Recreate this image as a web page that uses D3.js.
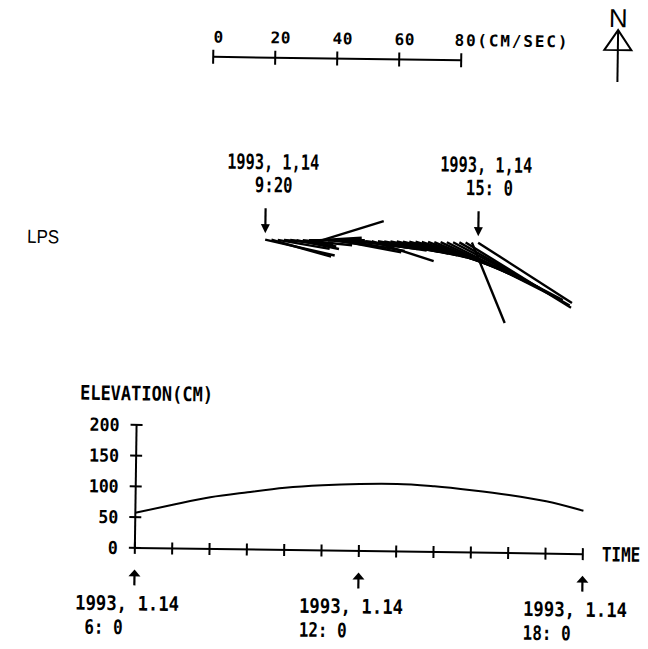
<!DOCTYPE html>
<html>
<head>
<meta charset="utf-8">
<script src="https://cdn.jsdelivr.net/npm/d3@7"></script>
<style>
  html, body { margin: 0; padding: 0; background: #fff; }
  svg { display: block; }
  text { font-family: "DejaVu Sans Mono", "Liberation Mono", monospace; font-weight: bold; fill: #000; white-space: pre; }
  .plain { font-family: "Liberation Sans", Arial, sans-serif; font-weight: normal; }
</style>
</head>
<body>
<script>
// ---- current sticks, station LPS, 10-minute samples ----
const stickTimes = ["9:20","9:30","9:40","9:50","10:00","10:10","10:20","10:30","10:40","10:50",
                    "11:00","11:10","11:20","11:30","11:40","11:50","12:00","12:10","12:20","12:30",
                    "12:40","12:50","13:00","13:10","13:20","13:30","13:40","13:50","14:00","14:10",
                    "14:20","14:30","14:40","14:50","15:00"];
// speed in cm/s
const stickSpeed = [23, 20, 17, 16, 15, 14, 16, 18, 15, 21,
                    14, 17, 20, 19, 18, 19, 20, 21, 20, 21,
                    22, 23, 23, 24, 25, 26, 27, 30, 35, 38,
                    40, 41, 40, 28, 36];
// direction toward which the current flows, degrees clockwise from north
const stickDir = [102, 105, 99, 94, 97, 101, 95, 89, 86, 72,
                  91, 97, 100, 99, 96, 97, 98, 107, 99, 100,
                  101, 102, 103, 104, 106, 108, 110, 112, 114, 116,
                  117, 119, 121, 157, 122];
const stickMarks = ["9:20", "15:00"];
const stickMarkDate = "1993, 1,14";
const stickMarkTime = ["9:20", "15: 0"];

// ---- velocity scale bar ----
const speedTicks = [0, 20, 40, 60, 80];
const speedUnit = "(CM/SEC)";

// ---- tide elevation, hourly ----
const elevHours = [6, 7, 8, 9, 10, 11, 12, 13, 14, 15, 16, 17, 18];
const elevCm = [57, 71, 84, 93, 101, 106, 109, 110, 107, 101.5, 94.5, 85, 70.5];
const elevTicks = [0, 50, 100, 150, 200];
const markHours = [6, 12, 18];
const markDate = "1993, 1.14";
const markTime = [" 6: 0", "12: 0", "18: 0"];

const W = 648, H = 649;
const svg = d3.select("body").append("svg").attr("width", W).attr("height", H);
svg.append("rect").attr("width", W).attr("height", H).attr("fill", "#fff");
// the plotter sheet sits slightly askew
const g = svg.append("g").attr("transform", "rotate(0.8,324,324)");

function txt(parent, s, x, y, size, len, anchor, adjust) {
  const t = parent.append("text").attr("x", x).attr("y", y)
    .attr("font-size", size).attr("text-anchor", anchor || "start").text(s);
  if (len) t.attr("textLength", len).attr("lengthAdjust", adjust || "spacingAndGlyphs");
  return t;
}

// ---------- scale bar ----------
const speedScale = d3.scaleLinear().domain([0, 80]).range([209.5, 457.5]);
const barY = 58.4;
g.append("line").attr("x1", speedScale(0)).attr("x2", speedScale(80))
  .attr("y1", barY).attr("y2", barY).attr("stroke", "#000").attr("stroke-width", 2);
g.selectAll(".stick-tick").data(speedTicks).join("line")
  .attr("x1", d => speedScale(d)).attr("x2", d => speedScale(d))
  .attr("y1", barY - 7).attr("y2", barY + 7)
  .attr("stroke", "#000").attr("stroke-width", 2);
speedTicks.forEach((d, i) => {
  if (i < speedTicks.length - 1) {
    txt(g, String(d), speedScale(d) + 5, 44, 16, String(d).length * 10, "middle", "spacing");
  } else {
    txt(g, String(d) + speedUnit, speedScale(d) - 7, 44, 16, 113, "start", "spacing");
  }
});

// north arrow
const nx = 614;
txt(g, "N", nx, 23, 26, null, "middle").attr("class", "plain");
g.append("path")
  .attr("d", `M${nx},26 L${nx - 13.5},46 L${nx + 13.5},46 Z`)
  .attr("fill", "none").attr("stroke", "#000").attr("stroke-width", 2);
g.append("line").attr("x1", nx).attr("x2", nx).attr("y1", 26).attr("y2", 78)
  .attr("stroke", "#000").attr("stroke-width", 2);

// ---------- stick plot ----------
const toMin = s => { const [h, m] = s.split(":").map(Number); return h * 60 + m; };
const stickX = d3.scaleLinear()
  .domain([toMin(stickTimes[0]), toMin(stickTimes[stickTimes.length - 1])])
  .range([264, 477]);
const baseY = 240.5;
const unitPx = speedScale(1) - speedScale(0);

txt(g, "LPS", 26, 247, 19, 32).attr("class", "plain");

const sticks = stickTimes.map((t, i) => {
  const x0 = stickX(toMin(t));
  const len = stickSpeed[i] * unitPx;
  const a = stickDir[i] * Math.PI / 180;
  return { x0, y0: baseY, x1: x0 + len * Math.sin(a), y1: baseY - len * Math.cos(a) };
});
g.selectAll(".stick").data(sticks).join("line")
  .attr("x1", d => d.x0).attr("y1", d => d.y0)
  .attr("x2", d => d.x1).attr("y2", d => d.y1)
  .attr("stroke", "#000").attr("stroke-width", 2.4);

// start / end markers
stickMarks.forEach((t, i) => {
  const x = stickX(toMin(t));
  g.append("line").attr("x1", x).attr("x2", x).attr("y1", 209).attr("y2", 227)
    .attr("stroke", "#000").attr("stroke-width", 2.2);
  g.append("path").attr("d", `M${x - 4.5},225 L${x + 4.5},225 L${x},234 Z`).attr("fill", "#000");
  txt(g, stickMarkDate, x - 39, 170, 21, 92);
  const lbl = stickMarkTime[i];
  txt(g, lbl, x - 11 - (lbl.length - 4) * 2, 193, 21, lbl.length * 9.4);
});

// ---------- elevation panel ----------
const tScale = d3.scaleLinear().domain([6, 18]).range([138, 586]);
const eScale = d3.scaleLinear().domain([0, 200]).range([550.5, 427.5]);
const axY = eScale(0), axX = tScale(6);

txt(g, "ELEVATION(CM)", 81, 403, 20, 133);

g.append("line").attr("x1", axX).attr("x2", axX).attr("y1", axY).attr("y2", eScale(200))
  .attr("stroke", "#000").attr("stroke-width", 2);
g.selectAll(".ytick").data(elevTicks).join("line")
  .attr("x1", axX - 6).attr("x2", axX + 6)
  .attr("y1", d => eScale(d)).attr("y2", d => eScale(d))
  .attr("stroke", "#000").attr("stroke-width", 2);
elevTicks.forEach(d => {
  const s = String(d);
  txt(g, s, 121, eScale(d) + 6.5, 18, s.length * 10, "end");
});

g.append("line").attr("x1", axX).attr("x2", tScale(18)).attr("y1", axY).attr("y2", axY)
  .attr("stroke", "#000").attr("stroke-width", 2);
g.selectAll(".xtick").data(tScale.ticks(12)).join("line")
  .attr("x1", d => tScale(d)).attr("x2", d => tScale(d))
  .attr("y1", axY - 6).attr("y2", axY + 6)
  .attr("stroke", "#000").attr("stroke-width", 2);
// axis title, stretched tall like the plotter lettering
g.append("text").attr("transform", `translate(605,${axY + 7}) scale(1,1.25)`)
  .attr("font-size", 16).text("TIME");

const line = d3.line().x((d, i) => tScale(elevHours[i])).y(d => eScale(d)).curve(d3.curveMonotoneX);
g.append("path").datum(elevCm).attr("d", line)
  .attr("fill", "none").attr("stroke", "#000").attr("stroke-width", 2);

// time markers under the axis
markHours.forEach((h, i) => {
  const x = tScale(h);
  g.append("line").attr("x1", x).attr("x2", x).attr("y1", 576).attr("y2", 588)
    .attr("stroke", "#000").attr("stroke-width", 2.2);
  g.append("path").attr("d", `M${x},572 L${x - 6},579 L${x + 6},579 Z`).attr("fill", "#000");
  txt(g, markDate, x - 59, 613, 20, 104);
  txt(g, markTime[i], x - 59, 637, 20, 48);
});
</script>
</body>
</html>
